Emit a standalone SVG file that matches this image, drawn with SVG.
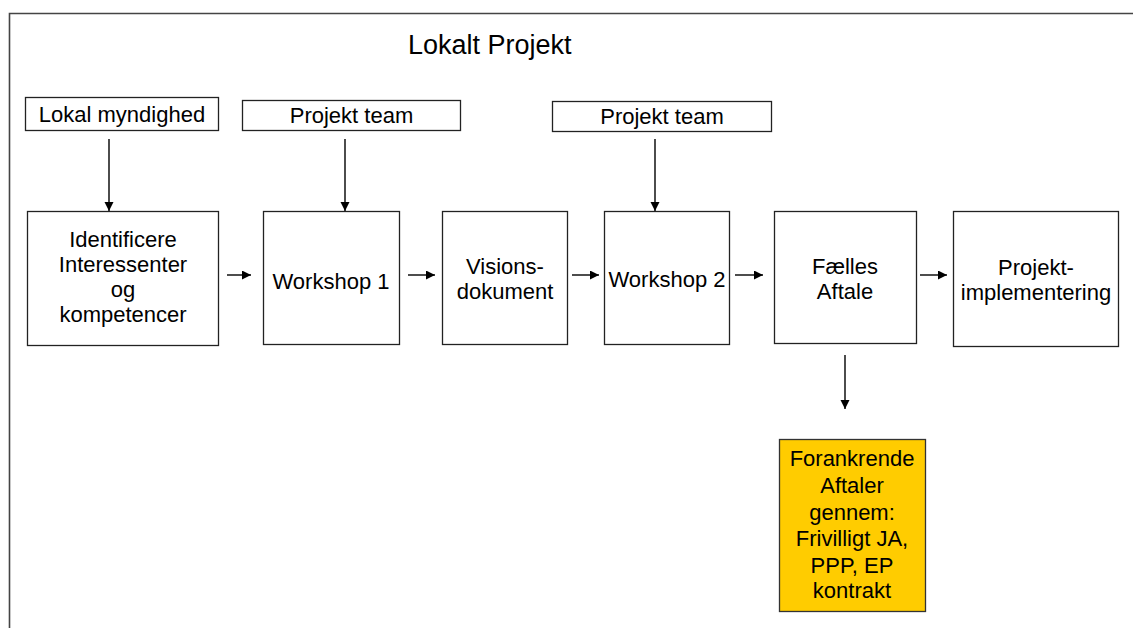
<svg xmlns="http://www.w3.org/2000/svg" width="1133" height="628" viewBox="0 0 1133 628">
<style>
.box{fill:#fff;stroke:#222;stroke-width:1.3}
.yel{fill:#FFCC00;stroke:#333;stroke-width:1.3}
.t{font-family:"Liberation Sans",Arial,sans-serif;font-size:22px;fill:#000;text-anchor:middle}
.c{stroke:#000;stroke-width:1.4;fill:none;marker-end:url(#ah)}
</style>
<defs>
<marker id="ah" markerUnits="userSpaceOnUse" markerWidth="10" markerHeight="10" refX="9" refY="4.5" orient="auto">
<path d="M0,0 L9,4.5 L0,9 Z" fill="#000"/>
</marker>
</defs>
<rect width="1133" height="628" fill="#fff"/>
<path d="M9.5,628 V13.5 H1133" fill="none" stroke="#444" stroke-width="1.6"/>
<text x="408" y="54" font-family="Liberation Sans,Arial,sans-serif" font-size="27" fill="#000">Lokalt Projekt</text>

<g id="lokal-myndighed"><rect class="box" x="25.5" y="97.5" width="193" height="33"/><text class="t" x="122" y="122">Lokal myndighed</text></g>
<g id="projekt-team-1"><rect class="box" x="242.5" y="100.5" width="218" height="30"/><text class="t" x="351.5" y="123">Projekt team</text></g>
<g id="projekt-team-2"><rect class="box" x="552.5" y="101.5" width="219" height="30"/><text class="t" x="662" y="124">Projekt team</text></g>

<g id="identificere"><rect class="box" x="27.5" y="211.5" width="191" height="134"/>
<text class="t" x="123" y="247">Identificere</text><text class="t" x="123" y="272">Interessenter</text><text class="t" x="123" y="297">og</text><text class="t" x="123" y="322">kompetencer</text></g>
<g id="workshop-1"><rect class="box" x="263.5" y="211.5" width="136" height="133"/><text class="t" x="331" y="289">Workshop 1</text></g>
<g id="visionsdokument"><rect class="box" x="442.5" y="211.5" width="125" height="133"/><text class="t" x="505" y="274">Visions-</text><text class="t" x="505" y="299">dokument</text></g>
<g id="workshop-2"><rect class="box" x="604.5" y="211.5" width="125" height="133"/><text class="t" x="667" y="287">Workshop 2</text></g>
<g id="faelles-aftale"><rect class="box" x="774.5" y="211.5" width="142" height="132"/><text class="t" x="845" y="274">Fælles</text><text class="t" x="845" y="299">Aftale</text></g>
<g id="projekt-implementering"><rect class="box" x="953.5" y="211.5" width="165" height="135"/><text class="t" x="1036" y="275">Projekt-</text><text class="t" x="1036" y="300">implementering</text></g>
<g id="forankrende"><rect class="yel" x="779.5" y="439.5" width="146" height="172"/>
<text class="t" x="852" y="466">Forankrende</text><text class="t" x="852" y="493">Aftaler</text><text class="t" x="852" y="520">gennem:</text><text class="t" x="852" y="546">Frivilligt JA,</text><text class="t" x="852" y="573">PPP, EP</text><text class="t" x="852" y="598">kontrakt</text></g>

<g id="connectors">
<line class="c" x1="109" y1="139" x2="109" y2="211"/>
<line class="c" x1="345" y1="139" x2="345" y2="211"/>
<line class="c" x1="655" y1="139" x2="655" y2="211"/>
<line class="c" x1="227" y1="275" x2="251" y2="275"/>
<line class="c" x1="408" y1="275" x2="435" y2="275"/>
<line class="c" x1="572" y1="275" x2="599" y2="275"/>
<line class="c" x1="735" y1="275" x2="763" y2="275"/>
<line class="c" x1="920" y1="275" x2="947" y2="275"/>
<line class="c" x1="845" y1="355" x2="845" y2="409"/>
</g>
</svg>
